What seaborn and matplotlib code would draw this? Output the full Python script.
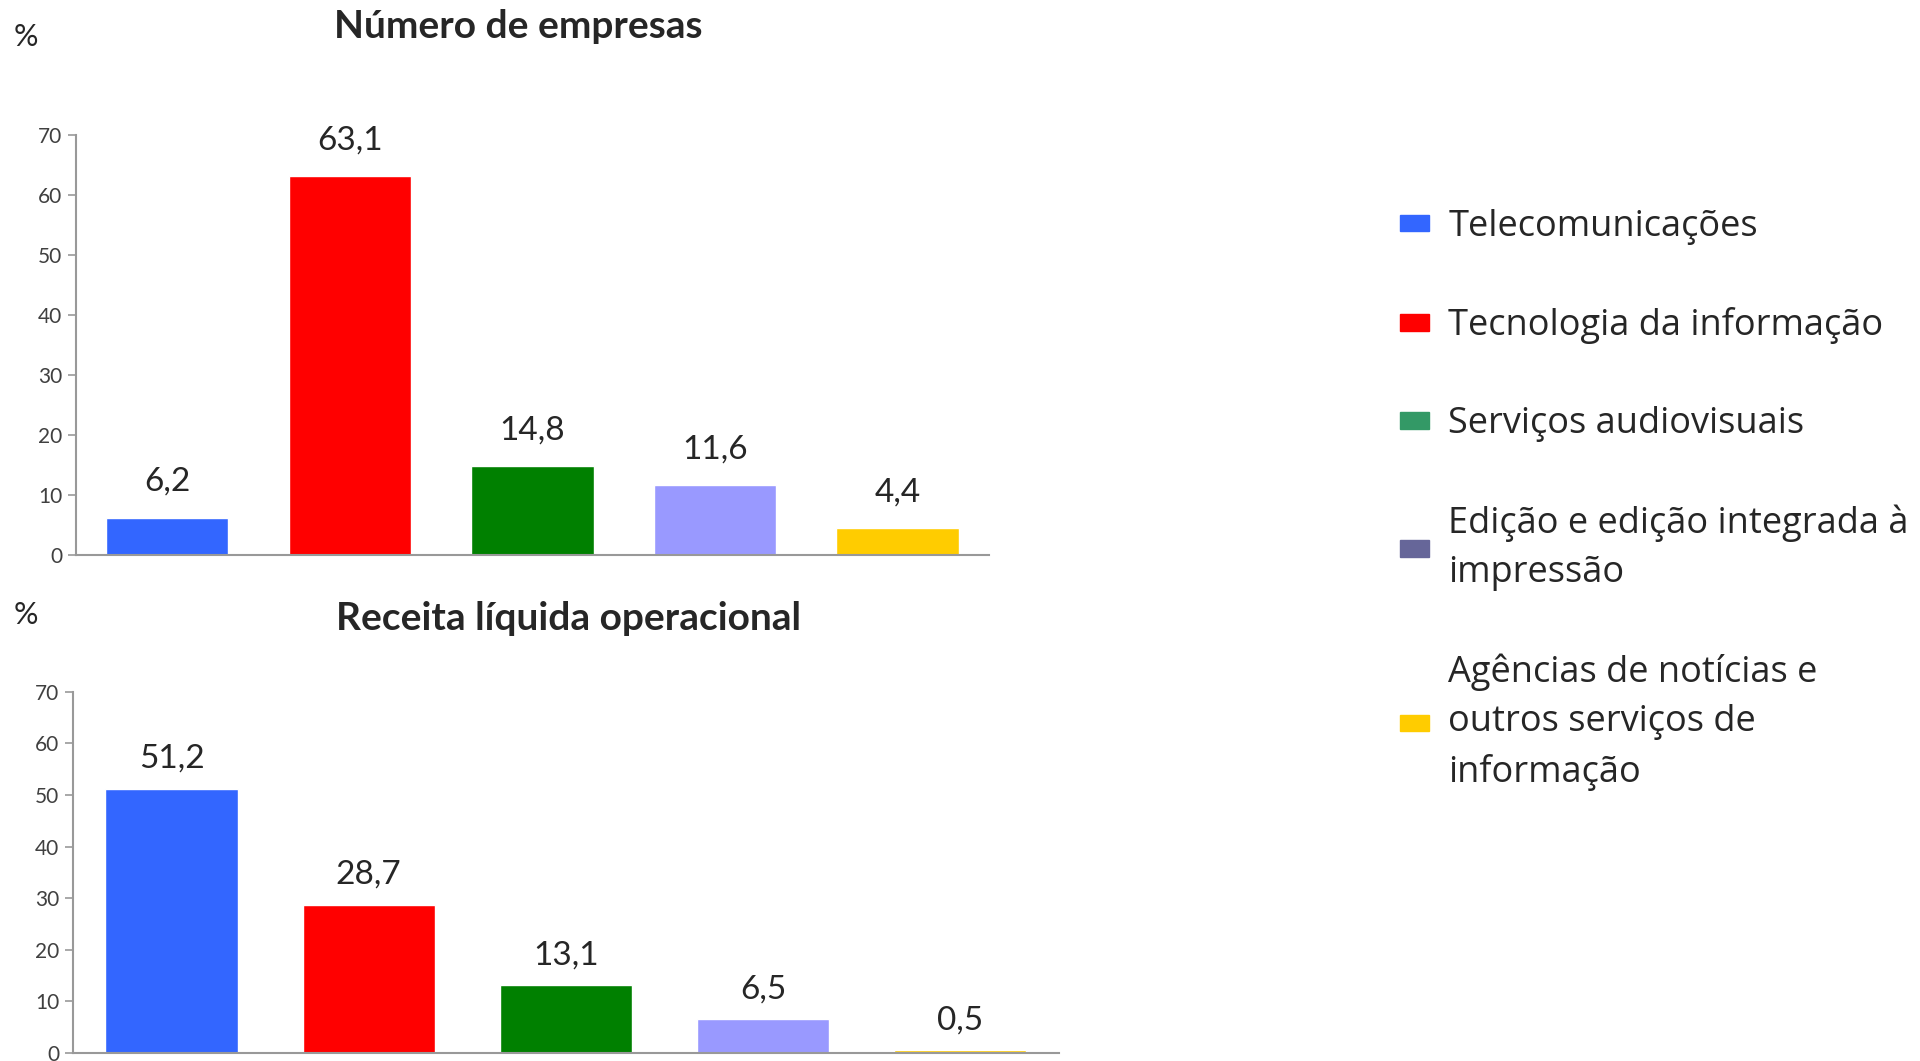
import matplotlib
matplotlib.use('Agg')
import matplotlib.pyplot as plt
import matplotlib.patches as mpatches
import pandas as pd
import seaborn as sns

# data
setores = ['Telecomunicações', 'Tecnologia da informação', 'Serviços audiovisuais',
           'Edição e edição integrada à\nimpressão',
           'Agências de notícias e\noutros serviços de\ninformação']
num_empresas = [6.2, 63.1, 14.8, 11.6, 4.4]
receita = [51.2, 28.7, 13.1, 6.5, 0.5]
y_ticks = [0, 10, 20, 30, 40, 50, 60, 70]

bar_colors = ['#3366FF', '#FF0000', '#008000', '#9999FF', '#FFCC00']
legend_colors = ['#3366FF', '#FF0000', '#339966', '#666699', '#FFCC00']

sns.set_style('white')
plt.rcParams['font.family'] = ['Lato', 'DejaVu Sans']

df = pd.DataFrame({'setor': setores, 'empresas': num_empresas, 'receita': receita})

fig = plt.figure(figsize=(19.2, 10.61), dpi=100)
ax1 = fig.add_axes([0.0396, 0.477, 0.4754, 0.396])
ax2 = fig.add_axes([0.038, 0.0075, 0.5135, 0.3405])


def draw(ax, col, pad):
    sns.barplot(data=df, x='setor', y=col, hue='setor', palette=bar_colors,
                width=0.67, legend=False, ax=ax, saturation=1)
    ax.set_xlim(-0.5, 4.5)
    ax.set_ylim(0, 70)
    ax.set_yticks(y_ticks)
    ax.set_xticks([])
    ax.set_xlabel('')
    ax.set_ylabel('')
    ax.tick_params(axis='y', labelsize=15, colors='#999999',
                   length=6, width=1.2, left=True, pad=4)
    for t in ax.get_yticklabels():
        t.set_color('#404040')
    sns.despine(ax=ax)
    for s in ['left', 'bottom']:
        ax.spines[s].set_color('#999999')
        ax.spines[s].set_linewidth(1.5)
    for c in ax.containers:
        ax.bar_label(c, labels=[f'{v:.1f}'.replace('.', ',') for v in c.datavalues],
                     padding=pad, fontsize=24, color='#262626')


draw(ax1, 'empresas', 15)
draw(ax2, 'receita', 11)

fig.text(0.27, 0.975, 'Número de empresas', ha='center', va='center',
         fontsize=28, fontweight='bold')
fig.text(0.296, 0.4175, 'Receita líquida operacional', ha='center', va='center',
         fontsize=28, fontweight='bold')
fig.text(0.0135, 0.965, '%', ha='center', va='center', fontsize=22)
fig.text(0.0135, 0.42, '%', ha='center', va='center', fontsize=22)

handles = [mpatches.Patch(color=c, label=l) for c, l in zip(legend_colors, setores)]
leg = fig.legend(handles=handles, loc='upper left', bbox_to_anchor=(0.729, 0.803),
                 frameon=False, borderpad=0, borderaxespad=0,
                 prop={'family': 'Open Sans', 'size': 26},
                 handlelength=0.8, handleheight=0.34, handletextpad=0.55,
                 labelspacing=1.72)
for t in leg.get_texts():
    t.set_linespacing(1.5)

fig.savefig('out.png', dpi=100)
